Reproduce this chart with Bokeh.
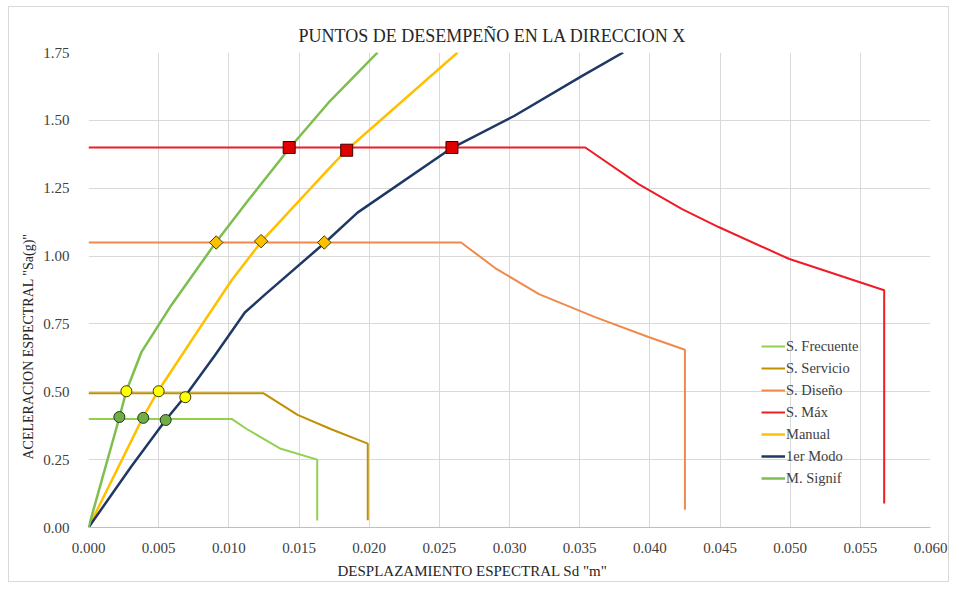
from bokeh.plotting import figure
from bokeh.models import Legend, LegendItem, SingleIntervalTicker, NumeralTickFormatter, Range1d, Title
from bokeh.embed import file_html
from bokeh.resources import INLINE

# ---- demand spectra (ADRS) ----
frec_x = [0.0, 0.0102, 0.0113, 0.0126, 0.0137, 0.0163, 0.0163]
frec_y = [0.40, 0.40, 0.362, 0.323, 0.29, 0.25, 0.026]
serv_x = [0.0, 0.01245, 0.0149, 0.0173, 0.0199, 0.0199]
serv_y = [0.495, 0.495, 0.415, 0.362, 0.309, 0.027]
dis_x = [0.0, 0.02655, 0.0290, 0.0321, 0.0361, 0.0399, 0.0425, 0.0425]
dis_y = [1.05, 1.05, 0.955, 0.86, 0.775, 0.702, 0.655, 0.065]
max_x = [0.0, 0.0354, 0.0392, 0.0423, 0.0449, 0.0499, 0.0567, 0.0567]
max_y = [1.40, 1.40, 1.265, 1.173, 1.107, 0.99, 0.874, 0.088]

# ---- capacity curves ----
man_x = [0.0, 0.00386, 0.00495, 0.00781, 0.0102, 0.01233, 0.0171, 0.0184, 0.0263]
man_y = [0.0, 0.404, 0.502, 0.726, 0.911, 1.054, 1.32, 1.391, 1.75]
modo_x = [0.0, 0.00305, 0.0055, 0.00686, 0.0090, 0.01114, 0.01257, 0.01686, 0.01917, 0.02588, 0.03036, 0.03512, 0.0381]
modo_y = [0.0, 0.2245, 0.396, 0.482, 0.634, 0.792, 0.858, 1.05, 1.16, 1.398, 1.517, 1.662, 1.75]
sig_x = [0.0, 0.00221, 0.00269, 0.00376, 0.0059, 0.00907, 0.0113, 0.01436, 0.0171, 0.0206]
sig_y = [0.0, 0.407, 0.502, 0.645, 0.819, 1.05, 1.20, 1.40, 1.565, 1.75]

# ---- performance points ----
pmax_x = [0.0143, 0.0184, 0.0259]
pmax_y = [1.40, 1.39, 1.40]
pdis_x = [0.0091, 0.0123, 0.0168]
pdis_y = [1.05, 1.055, 1.05]
pserv_x = [0.0027, 0.0050, 0.0069]
pserv_y = [0.502, 0.502, 0.48]
pfrec_x = [0.0022, 0.0039, 0.0055]
pfrec_y = [0.407, 0.404, 0.396]

FONT = "Liberation Serif"

p = figure(width=941, height=576, output_backend="svg", toolbar_location=None,
           x_range=Range1d(0, 0.060), y_range=Range1d(0, 1.75),
           min_border_left=79, min_border_right=20, min_border_top=45, min_border_bottom=53)
p.margin = (6, 0, 0, 8)
p.styles = {"border": "1px solid #d9d9d9"}
p.outline_line_color = None

t = Title(text="PUNTOS DE DESEMPEÑO EN LA DIRECCION X", align="left", offset=210, standoff=14,
          text_font=FONT, text_font_size="18px", text_font_style="normal", text_color="#262626")
p.add_layout(t, "above")
xl = Title(text='DESPLAZAMIENTO ESPECTRAL Sd "m"', align="left", offset=249,
           text_font=FONT, text_font_size="15px", text_font_style="normal", text_color="#262626")
p.add_layout(xl, "below")
yl = Title(text='ACELERACION ESPECTRAL "Sa(g)"', align="left", offset=68,
           text_font=FONT, text_font_size="14px", text_font_style="normal", text_color="#262626")
p.add_layout(yl, "left")

p.xaxis.ticker = SingleIntervalTicker(interval=0.005)
p.yaxis.ticker = SingleIntervalTicker(interval=0.25)
p.xaxis.formatter = NumeralTickFormatter(format="0.000")
p.yaxis.formatter = NumeralTickFormatter(format="0.00")
for ax in (p.xaxis, p.yaxis):
    ax.major_label_text_font = FONT
    ax.major_label_text_font_size = "15px"
    ax.major_label_text_color = "#404040"
    ax.major_tick_line_color = None
    ax.minor_tick_line_color = None
p.xaxis.axis_line_color = "#bfbfbf"
p.yaxis.axis_line_color = None
p.xaxis.major_label_standoff = 9
p.yaxis.major_label_standoff = 13
p.grid.grid_line_color = "#d9d9d9"

r1 = p.line(frec_x, frec_y, line_color="#92D050", line_width=2)
r2 = p.line(serv_x, serv_y, line_color="#BF9000", line_width=2)
r3 = p.line(dis_x, dis_y, line_color="#F08A4B", line_width=2)
r4 = p.line(max_x, max_y, line_color="#EE1C25", line_width=2)
r5 = p.line(man_x, man_y, line_color="#FFC000", line_width=2.5)
r6 = p.line(modo_x, modo_y, line_color="#1F3864", line_width=2.5)
r7 = p.line(sig_x, sig_y, line_color="#7DBE4F", line_width=2.5)

p.scatter(pmax_x, pmax_y, marker="square", size=12, fill_color="#E00000", line_color="#3a0000", line_width=1)
p.scatter(pdis_x, pdis_y, marker="square", angle=0.7854, size=9.5, fill_color="#FFC000", line_color="#4a3a00", line_width=1)
p.scatter(pserv_x, pserv_y, marker="circle", size=11, fill_color="#FFFF00", line_color="#3a3a00", line_width=1)
p.scatter(pfrec_x, pfrec_y, marker="circle", size=11, fill_color="#70AD47", line_color="#1f3a10", line_width=1)

legend = Legend(items=[
    LegendItem(label="S. Frecuente", renderers=[r1]),
    LegendItem(label="S. Servicio", renderers=[r2]),
    LegendItem(label="S. Diseño", renderers=[r3]),
    LegendItem(label="S. Máx", renderers=[r4]),
    LegendItem(label="Manual", renderers=[r5]),
    LegendItem(label="1er Modo", renderers=[r6]),
    LegendItem(label="M. Signif", renderers=[r7]),
], location=(673, 38))
legend.background_fill_alpha = 0
legend.border_line_color = None
legend.label_text_font = FONT
legend.label_text_font_size = "14.5px"
legend.label_text_color = "#404040"
legend.glyph_width = 24
legend.label_standoff = 1
legend.spacing = 0
legend.label_height = 22
legend.glyph_height = 22
legend.padding = 0
legend.margin = 0
p.add_layout(legend, "center")

open("out.html", "w").write(file_html(p, INLINE))
